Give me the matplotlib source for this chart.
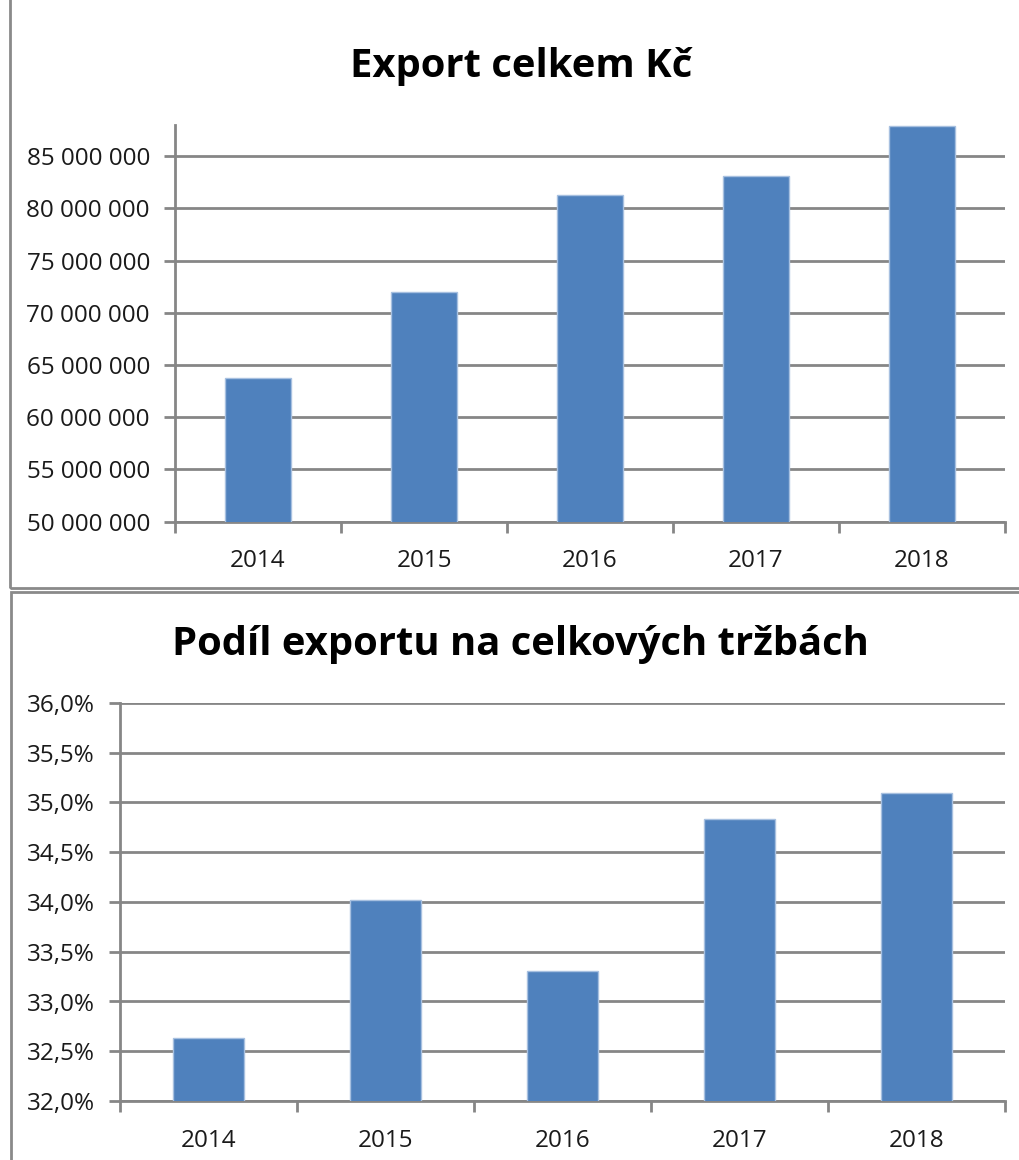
import matplotlib.pyplot as plt
from matplotlib.patches import Rectangle
from matplotlib.ticker import FuncFormatter, MultipleLocator
import numpy as np

years = ['2014', '2015', '2016', '2017', '2018']
export_czk = [63800000, 72000000, 81300000, 83100000, 87900000]
export_share = [32.63, 34.02, 33.31, 34.83, 35.10]

plt.rcParams['font.family'] = ['Open Sans', 'DejaVu Sans']

BAR = '#4F81BD'
EDGE = '#A7C0E0'
GRID = '#868686'
W, H = 1019, 1160


def style_axes(ax, n):
    for s in ['top', 'right']:
        ax.spines[s].set_visible(False)
    for s in ['left', 'bottom']:
        ax.spines[s].set_color(GRID)
        ax.spines[s].set_linewidth(2)
    ax.yaxis.grid(True, color=GRID, lw=2)
    ax.set_axisbelow(True)
    ax.tick_params(axis='y', colors=GRID, length=8, width=2, labelcolor='#1a1a1a',
                   labelsize=17.5, pad=10)
    ax.tick_params(axis='x', which='major', length=0, labelcolor='#1a1a1a',
                   labelsize=17.5, pad=20)
    ax.set_xticks(np.arange(n))
    ax.set_xticks(np.arange(n + 1) - 0.5, minor=True)
    ax.tick_params(axis='x', which='minor', colors=GRID, length=8, width=2)
    ax.set_xlim(-0.5, n - 0.5)


fig = plt.figure(figsize=(W / 100, H / 100), dpi=100)

# chart borders
fig.patches.append(Rectangle((10 / W, 1 - 588 / H), 1.2, 700 / H, transform=fig.transFigure,
                             fill=False, edgecolor='#8a8a8a', lw=2))
fig.patches.append(Rectangle((11 / W, -0.1), 1.2, (H - 592) / H + 0.1, transform=fig.transFigure,
                             fill=False, edgecolor='#8a8a8a', lw=2))

# top chart
ax1 = fig.add_axes([175 / W, 1 - 521.5 / H, 830 / W, 396.5 / H])
x = np.arange(len(years))
ax1.bar(x, export_czk, width=0.4, color=BAR, edgecolor=EDGE, lw=1, zorder=3)
ax1.set_ylim(50000000, 88000000)
ax1.yaxis.set_major_locator(MultipleLocator(5000000))
ax1.yaxis.set_major_formatter(FuncFormatter(lambda v, p: '{:,.0f}'.format(v).replace(',', ' ')))
style_axes(ax1, len(years))
ax1.set_xticklabels(years)
fig.text(0.511, 1 - 66 / H, 'Export celkem Kč', ha='center', va='center',
         fontsize=28.8, fontweight='bold')

# bottom chart
ax2 = fig.add_axes([120 / W, 1 - 1101 / H, 885 / W, 398 / H])
ax2.bar(x, export_share, width=0.4, color=BAR, edgecolor=EDGE, lw=1, zorder=3)
ax2.set_ylim(32, 36)
ax2.yaxis.set_major_locator(MultipleLocator(0.5))
ax2.yaxis.set_major_formatter(FuncFormatter(lambda v, p: '{:.1f}%'.format(v).replace('.', ',')))
style_axes(ax2, len(years))
ax2.set_xticklabels(years)
fig.text(0.511, 1 - 645 / H, 'Podíl exportu na celkových tržbách', ha='center', va='center',
         fontsize=28.8, fontweight='bold')

fig.savefig('out.png', dpi=100)
